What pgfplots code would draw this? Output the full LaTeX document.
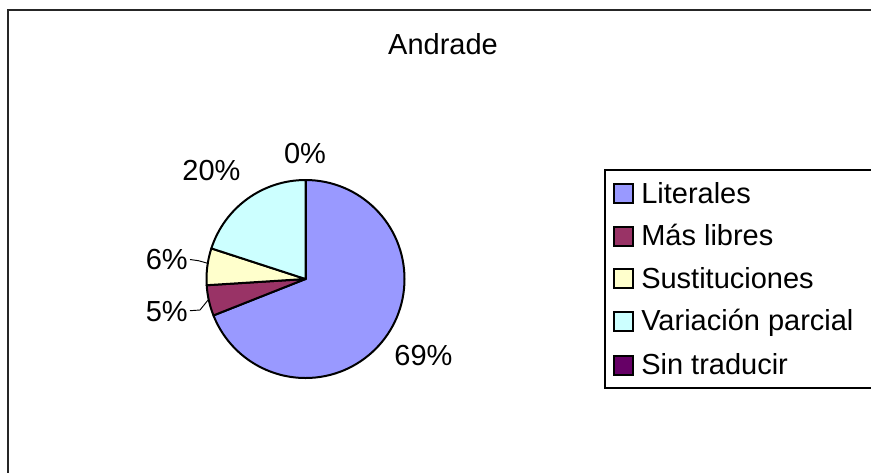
\documentclass[border=0pt]{standalone}
\usepackage{pgfplots}
\usepackage{pgfplotstable}
\pgfplotsset{compat=1.18}
\usepackage{fontspec}
\setmainfont{Liberation Sans}
\newcommand\chartfont{\fontsize{21.75}{26}\selectfont}

\definecolor{cLit}{HTML}{9999FF}
\definecolor{cMas}{HTML}{993366}
\definecolor{cSus}{HTML}{FFFFCC}
\definecolor{cVar}{HTML}{CCFFFF}
\definecolor{cSin}{HTML}{660066}

% share of each category (percent)
\pgfplotstableread{
value
69
5
6
20
0
}\piedata

\pgfplotstablegetelem{0}{value}\of\piedata \pgfmathsetmacro\vA{\pgfplotsretval}
\pgfplotstablegetelem{1}{value}\of\piedata \pgfmathsetmacro\vB{\pgfplotsretval}
\pgfplotstablegetelem{2}{value}\of\piedata \pgfmathsetmacro\vC{\pgfplotsretval}
\pgfplotstablegetelem{3}{value}\of\piedata \pgfmathsetmacro\vD{\pgfplotsretval}
\pgfplotstablegetelem{4}{value}\of\piedata \pgfmathsetmacro\vE{\pgfplotsretval}
\pgfmathsetmacro\aZ{90}
\pgfmathsetmacro\aA{\aZ-3.6*\vA}
\pgfmathsetmacro\aB{\aA-3.6*\vB}
\pgfmathsetmacro\aC{\aB-3.6*\vC}
\pgfmathsetmacro\aD{\aC-3.6*\vD}
\pgfmathsetmacro\aE{\aD-3.6*\vE}

\begin{document}
\begin{tikzpicture}
\begin{axis}[
  at={(0,0)}, anchor=south west,
  x=0.75pt, y=0.75pt,
  xmin=0, xmax=871, ymin=0, ymax=472,
  y dir=reverse,
  hide axis, clip=false,
]
% outer frame
\draw[line width=1.5pt, black!85] (axis cs:8,10) rectangle (axis cs:900,500);
% title
\node[anchor=base, inner sep=0pt, font=\chartfont] at (axis cs:443,54) {Andrade};
% pie slices
\newcommand\slice[3]{%
  \filldraw[fill=#1, draw=black, line width=1.5pt, line join=round]
    (axis cs:305.5,279) -- ++(#2:74.25pt) arc[start angle=#2, end angle=#3, radius=74.25pt] -- cycle;}
\slice{cLit}{\aZ}{\aA}
\slice{cMas}{\aA}{\aB}
\slice{cSus}{\aB}{\aC}
\slice{cVar}{\aC}{\aD}
\slice{cSin}{\aD}{\aE}
% leader lines
\draw[line width=0.7pt] (axis cs:190,259.5) -- (axis cs:198.5,260.7) -- (axis cs:208.5,263.5);
\draw[line width=0.7pt] (axis cs:190,310.7) -- (axis cs:200,310) -- (axis cs:208.5,299.5);
% data labels
\begin{scope}[every node/.style={inner sep=0pt, font=\chartfont}]
\node[anchor=base] at (axis cs:305,163.3) {0\%};
\node[anchor=base] at (axis cs:211.5,180.5) {20\%};
\node[anchor=base east] at (axis cs:188,269.3) {6\%};
\node[anchor=base east] at (axis cs:188,321) {5\%};
\node[anchor=base] at (axis cs:423.5,365) {69\%};
% legend
\draw[line width=0.8pt, black] (axis cs:605,170) rectangle (axis cs:900,388);
\newcommand\legrow[3]{%
  \filldraw[fill=#1, draw=black, line width=1.5pt] (axis cs:614,#2-19) rectangle (axis cs:632.5,#2);
  \node[anchor=base west] at (axis cs:641,#2) {#3};}
\legrow{cLit}{203.3}{Literales}
\legrow{cMas}{245.5}{Más libres}
\legrow{cSus}{288.3}{Sustituciones}
\legrow{cVar}{330.9}{Variación parcial}
\legrow{cSin}{374.5}{Sin traducir}
\end{scope}
\end{axis}
\pgfresetboundingbox
\useasboundingbox (0,0) rectangle (653.25pt,354pt);
\end{tikzpicture}
\end{document}
